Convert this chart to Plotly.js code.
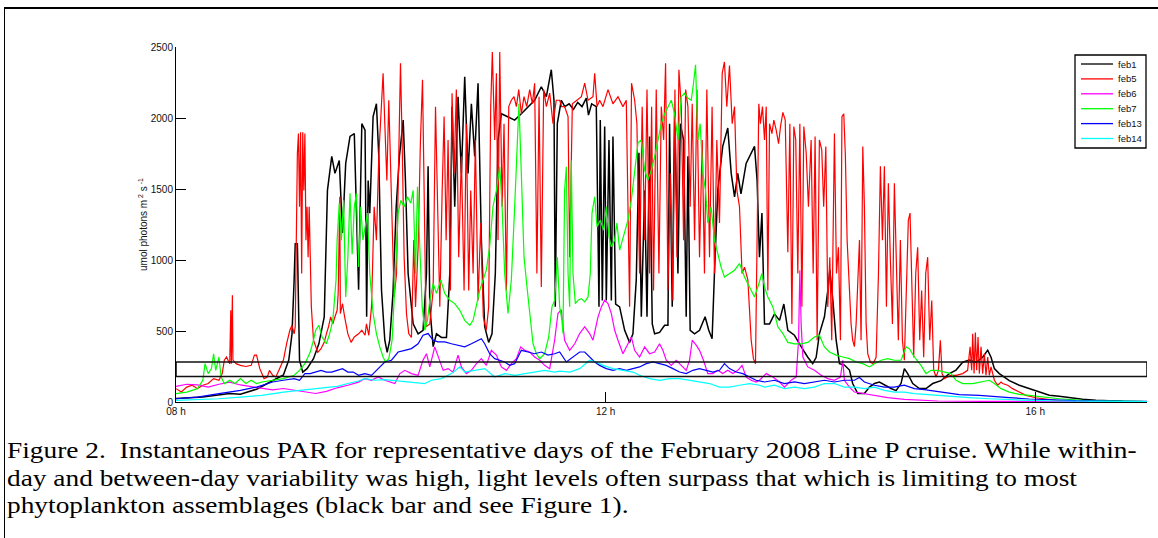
<!DOCTYPE html>
<html>
<head>
<meta charset="utf-8">
<script src="https://cdn.plot.ly/plotly-3.0.1.min.js"></script>
<style>
  html, body { margin: 0; padding: 0; background: #fff; }
  #wrap { position: relative; width: 1158px; height: 538px; overflow: hidden; }
  #frame { position: absolute; left: 4px; top: 7px; width: 1200px; height: 600px;
           border-left: 1px solid #000; border-top: 2px solid #000; box-sizing: border-box; }
  #chart { position: absolute; left: 0; top: 0; width: 1158px; height: 538px; }
  #caption { position: absolute; left: 7px; top: 437px; font-family: "Liberation Serif", "Times New Roman", Times, serif;
             font-size: 24px; line-height: 27.5px; color: #000; white-space: nowrap;
             transform: scaleX(1.14); transform-origin: 0 0; }
</style>
</head>
<body>
<div id="wrap">
  <div id="frame"></div>
  <div id="chart"></div>
  <div id="caption">Figure 2.&nbsp; Instantaneous PAR for representative days of the February 2008 Line P cruise. While within-<br>day and between-day variability was high, light levels often surpass that which is limiting to most<br>phytoplankton assemblages (black bar and see Figure 1).</div>
</div>
<script>
// Time of day (hours) and PAR (umol photons m^2 s^-1)
const seriesNames = ['feb1', 'feb5', 'feb6', 'feb7', 'feb13', 'feb14'];
const seriesColors = ['#000000', '#ff0000', '#ff00ff', '#00ff00', '#0000ff', '#00ffff'];

const feb1Hours = [8.00,8.25,8.5,8.6,8.75,9.0,9.05,9.08,9.1,9.11,9.13,9.15,9.18,9.22,9.28,9.33,9.38,9.41,9.45,9.48,9.52,9.55,9.58,9.62,9.66,9.70,9.73,9.76,9.775,9.789,9.804,9.835,9.866,9.888,9.913,9.944,9.966,9.99,10.02,10.05,10.08,10.115,10.136,10.161,10.208,10.254,10.3,10.332,10.347,10.363,10.394,10.425,10.471,10.518,10.549,10.57,10.595,10.626,10.657,10.688,10.719,10.75,10.781,10.812,10.843,10.874,10.911,10.942,10.973,10.998,11.029,11.091,11.153,11.215,11.277,11.339,11.401,11.448,11.494,11.519,11.531,11.55,11.587,11.62,11.66,11.7,11.74,11.78,11.82,11.84,11.87,11.913,11.938,11.95,11.969,11.991,12.006,12.031,12.053,12.068,12.093,12.13,12.177,12.223,12.254,12.285,12.31,12.332,12.363,12.385,12.409,12.434,12.456,12.502,12.549,12.58,12.595,12.62,12.642,12.673,12.695,12.726,12.75,12.766,12.787,12.828,12.874,12.926,12.96,12.991,13.013,13.044,13.09,13.137,13.169,13.2,13.23,13.26,13.308,13.355,13.386,13.41,13.432,13.455,13.479,13.526,13.572,13.619,13.659,13.696,13.758,13.82,13.882,13.928,13.96,13.99,14.037,14.068,14.087,14.115,14.146,14.177,14.223,14.27,14.3,14.347,14.409,14.456,14.502,14.549,14.595,14.657,14.704,14.75,14.781,14.812,14.859,14.921,14.983,15.045,15.122,15.2,15.262,15.324,15.386,15.448,15.51,15.557,15.588,15.619,15.665,15.758,15.851,15.944,16.037,16.13,16.223,16.316,16.44,16.564,16.688,16.812];
const feb1Par = [25,35,60,55,90,190,295,480,860,1115,1115,295,210,235,305,410,600,1490,1730,1610,1700,1190,1680,1870,1890,790,1960,1915,600,1560,1330,2010,2100,1730,790,435,350,435,765,1375,1730,1985,1560,905,550,480,505,905,1660,670,390,480,455,455,905,2080,1375,2150,1610,2290,1610,2100,1730,2245,1140,530,420,480,905,1845,2030,2010,1985,2030,2080,2125,2220,2150,2340,2125,670,1960,2125,2080,2100,2060,2110,2080,2140,2020,2100,2080,670,1985,715,1940,715,1845,715,1870,690,670,505,420,480,860,1755,600,1490,600,1870,550,480,490,540,540,1960,670,2055,905,1960,1845,600,1730,505,480,505,600,505,445,905,1490,1800,1930,1610,1445,1610,1465,1680,1755,1800,1560,1020,1330,550,550,620,575,690,505,470,390,315,270,315,480,600,785,930,720,435,270,260,225,130,60,60,105,130,140,120,95,80,130,235,200,130,95,95,130,150,200,225,280,295,280,315,365,315,235,200,150,118,94,70,47,40,30,19,12,7,5];

const feb5Hours = [8.0,8.05,8.1,8.15,8.2,8.25,8.3,8.35,8.4,8.43,8.45,8.47,8.5,8.51,8.515,8.525,8.53,8.56,8.6,8.65,8.7,8.73,8.75,8.78,8.82,8.85,8.87,8.9,8.93,8.96,9.0,9.03,9.06,9.08,9.1,9.11,9.13,9.14,9.15,9.16,9.17,9.18,9.19,9.2,9.21,9.22,9.23,9.24,9.25,9.26,9.28,9.3,9.32,9.35,9.38,9.4,9.42,9.44,9.46,9.48,9.5,9.51,9.52,9.525,9.53,9.55,9.57,9.6,9.63,9.66,9.7,9.73,9.76,9.773,9.795,9.82,9.845,9.866,9.888,9.913,9.928,9.944,9.963,9.981,10.006,10.031,10.053,10.068,10.09,10.105,10.124,10.146,10.167,10.192,10.214,10.23,10.254,10.276,10.295,10.31,10.328,10.363,10.394,10.416,10.434,10.456,10.478,10.496,10.515,10.533,10.555,10.57,10.589,10.61,10.632,10.657,10.682,10.703,10.725,10.744,10.766,10.787,10.812,10.837,10.861,10.889,10.911,10.93,10.945,10.967,10.983,10.998,11.014,11.036,11.054,11.076,11.098,11.122,11.147,11.169,11.191,11.215,11.24,11.265,11.293,11.318,11.339,11.36,11.38,11.401,11.423,11.448,11.479,11.51,11.54,11.572,11.59,11.618,11.65,11.665,11.69,11.727,11.774,11.805,11.836,11.882,11.898,11.92,11.944,11.975,12.022,12.068,12.115,12.161,12.192,12.223,12.241,12.27,12.291,12.316,12.34,12.363,12.385,12.409,12.428,12.446,12.471,12.496,12.518,12.54,12.558,12.58,12.602,12.626,12.645,12.664,12.682,12.704,12.726,12.745,12.766,12.787,12.806,12.828,12.85,12.874,12.899,12.92,12.942,12.967,12.991,13.013,13.035,13.06,13.085,13.106,13.128,13.153,13.178,13.2,13.222,13.246,13.27,13.293,13.324,13.355,13.376,13.395,13.41,13.426,13.441,13.46,13.479,13.495,13.51,13.526,13.548,13.566,13.588,13.61,13.628,13.65,13.672,13.696,13.715,13.734,13.752,13.77,13.789,13.808,13.827,13.845,13.867,13.888,13.913,13.932,13.95,13.969,13.99,14.012,14.03,14.05,14.068,14.087,14.105,14.13,14.149,14.167,14.186,14.2,14.217,14.232,14.248,14.267,14.285,14.3,14.316,14.332,14.347,14.363,14.378,14.394,14.409,14.425,14.44,14.465,14.49,14.518,14.54,14.558,14.577,14.595,14.614,14.632,14.65,14.67,14.688,14.707,14.725,14.744,14.763,14.781,14.8,14.818,14.834,14.85,14.868,14.887,14.905,14.924,14.942,14.961,14.98,14.998,15.017,15.036,15.054,15.076,15.098,15.116,15.132,15.153,15.184,15.215,15.262,15.324,15.37,15.393,15.408,15.417,15.43,15.442,15.454,15.467,15.479,15.495,15.51,15.526,15.541,15.557,15.572,15.588,15.619,15.65,15.681,15.696,15.743,15.789,15.851,15.913,16.006,16.099,16.192,16.316,16.45];
const feb5Par = [94,70,105,118,94,118,130,165,153,200,295,317,270,646,270,752,295,270,258,250,258,330,330,235,165,176,223,188,176,223,295,411,505,540,480,530,1750,1890,1375,1900,905,1900,1490,1890,1140,1375,1020,1375,860,670,435,390,350,375,420,480,530,600,550,600,646,765,1140,1445,623,693,600,480,420,458,480,505,470,550,470,670,1375,1140,1730,2080,2315,1960,1560,2125,1375,740,905,1540,2385,1845,1020,620,480,455,1140,670,1090,1845,2270,1490,530,550,785,2080,1375,670,1490,2010,1140,1845,785,2175,1610,2200,1020,1730,785,1960,785,1490,905,1845,715,1260,600,505,670,2080,2465,1845,2315,1140,2465,1375,1960,785,2080,2125,2150,2080,2200,2030,2150,2080,2200,2100,2245,905,2150,810,2200,2080,2175,1960,2125,2125,2080,2080,2010,1020,2100,2125,2150,2245,2125,2150,2315,2080,2125,2080,2200,2100,2150,2080,2125,670,2245,2125,1960,905,2080,1140,2200,905,2080,785,2200,905,2080,1845,2385,785,1610,715,2200,1020,2340,2080,1140,2200,2080,1375,2100,1140,2200,1020,1845,905,2200,1020,2080,905,1845,1260,2315,2395,2080,2370,1960,2080,1490,1375,905,950,860,435,305,270,1140,2100,1960,2080,1845,2080,785,1960,1890,1985,1915,1820,1940,2040,1985,1055,1960,550,1940,1845,905,1960,670,1940,1755,1375,1845,905,1870,435,1845,1775,1375,1800,670,1020,435,1890,905,1090,435,2010,2030,1730,1140,785,550,435,390,550,905,1140,435,1800,1375,550,340,280,270,315,905,1660,1140,1660,670,1540,1020,550,1540,905,435,1140,435,295,905,1280,1330,905,315,905,1090,435,785,315,905,1020,435,715,225,176,223,435,200,165,176,188,188,200,223,388,223,480,200,490,223,458,200,388,200,340,188,317,188,247,153,118,140,130,118,94,70,47,30,19,12,7,4];

const feb6Hours = [8.0,8.1,8.2,8.3,8.4,8.5,8.6,8.7,8.8,8.9,9.0,9.1,9.2,9.3,9.4,9.5,9.6,9.7,9.758,9.82,9.882,9.944,10.037,10.084,10.13,10.192,10.254,10.3,10.332,10.363,10.409,10.44,10.487,10.533,10.58,10.626,10.657,10.703,10.75,10.797,10.843,10.889,10.936,10.983,11.029,11.076,11.122,11.169,11.209,11.246,11.293,11.339,11.386,11.432,11.479,11.525,11.556,11.587,11.618,11.665,11.712,11.758,11.805,11.851,11.882,11.929,11.96,11.991,12.022,12.053,12.084,12.115,12.161,12.208,12.239,12.27,12.316,12.363,12.409,12.456,12.502,12.533,12.564,12.611,12.657,12.704,12.75,12.781,12.806,12.843,12.874,12.911,12.951,12.998,13.044,13.09,13.137,13.184,13.23,13.27,13.308,13.355,13.401,13.432,13.495,13.557,13.619,13.665,13.727,13.774,13.796,13.808,13.82,13.836,13.882,13.944,14.006,14.068,14.13,14.186,14.208,14.223,14.27,14.316,14.409,14.502,14.626,14.781,14.936,15.09,15.5,16.0,16.5];
const feb6Par = [110,125,120,105,125,140,120,110,100,85,95,85,70,60,75,100,118,140,165,153,176,153,130,200,223,200,188,295,340,247,388,317,223,235,210,330,247,200,223,270,305,258,364,330,247,223,270,305,388,364,352,317,294,258,235,435,623,650,435,364,410,482,530,482,435,600,670,717,693,623,505,435,340,410,458,364,317,388,340,352,410,364,294,258,294,258,223,294,435,400,364,294,200,200,223,200,223,200,223,258,176,153,141,153,200,176,141,105,153,176,435,928,552,317,247,223,188,165,153,176,294,153,105,70,59,47,31,19,12,7,5,3,2];

const feb7Hours = [8.0,8.1,8.2,8.25,8.27,8.3,8.33,8.35,8.37,8.4,8.42,8.45,8.5,8.55,8.6,8.65,8.7,8.75,8.8,8.9,9.0,9.1,9.15,9.2,9.25,9.28,9.3,9.33,9.36,9.4,9.43,9.46,9.49,9.5,9.52,9.54,9.56,9.58,9.6,9.62,9.64,9.66,9.68,9.7,9.72,9.74,9.76,9.783,9.804,9.835,9.866,9.897,9.928,9.95,9.981,10.012,10.043,10.068,10.093,10.124,10.155,10.186,10.208,10.23,10.248,10.27,10.292,10.316,10.341,10.363,10.394,10.425,10.465,10.502,10.549,10.595,10.642,10.688,10.735,10.766,10.797,10.828,10.859,10.889,10.92,10.951,10.983,11.014,11.036,11.06,11.091,11.122,11.153,11.178,11.193,11.215,11.24,11.271,11.302,11.324,11.355,11.386,11.432,11.47,11.5,11.525,11.55,11.572,11.593,11.603,11.618,11.634,11.65,11.665,11.68,11.696,11.718,11.743,11.774,11.805,11.836,11.857,11.873,11.898,11.92,11.95,11.982,12.006,12.031,12.053,12.084,12.105,12.13,12.155,12.18,12.208,12.239,12.27,12.301,12.332,12.363,12.394,12.425,12.456,12.487,12.518,12.549,12.58,12.611,12.642,12.673,12.704,12.735,12.766,12.797,12.818,12.837,12.859,12.88,12.905,12.93,12.951,12.982,13.013,13.044,13.075,13.106,13.153,13.2,13.246,13.293,13.339,13.386,13.417,13.455,13.479,13.51,13.557,13.603,13.65,13.696,13.758,13.82,13.882,13.944,13.99,14.037,14.084,14.146,14.208,14.27,14.332,14.394,14.456,14.502,14.564,14.626,14.688,14.75,14.797,14.828,14.874,14.936,14.983,15.03,15.09,15.153,15.215,15.262,15.324,15.417,15.51,15.572,15.619,15.681,15.758,15.851,15.944,16.068,16.223,16.44,16.75,17.0];
const feb7Par = [59,70,94,153,270,200,235,340,223,317,176,130,153,130,165,130,153,130,141,153,165,188,223,270,352,435,505,540,458,410,480,575,860,1140,1400,1140,1420,740,1020,1470,1040,1375,1470,950,1375,1140,1235,1330,905,623,482,388,317,282,305,435,905,1330,1420,1375,1445,1400,1490,905,1515,1140,670,505,575,717,835,765,860,765,717,693,646,575,540,575,693,787,860,928,1093,1375,1490,1657,1375,905,623,860,1375,1890,2100,1610,1020,787,552,410,340,305,340,458,670,717,1020,670,575,482,1490,1657,905,670,1700,905,693,717,728,705,740,905,1330,1445,1235,1280,1210,1375,1165,1093,1140,1260,1070,1140,1210,1280,1420,1610,1825,1845,1633,1563,1633,1727,1845,1960,2030,2080,2125,2030,1845,2150,2175,2140,2125,2245,2375,1845,1960,1610,1490,1260,1375,1140,1045,950,880,905,928,975,880,810,740,810,905,810,740,670,530,482,420,410,410,420,458,470,388,352,330,317,305,282,270,247,270,294,305,294,294,388,376,317,258,200,223,223,211,200,153,130,130,141,153,130,94,70,54,47,35,23,12,7,4];

const feb13Hours = [8.0,8.2,8.4,8.5,8.6,8.75,8.9,9.0,9.1,9.15,9.2,9.25,9.3,9.35,9.4,9.45,9.5,9.55,9.6,9.65,9.7,9.758,9.82,9.882,9.944,10.006,10.068,10.13,10.192,10.254,10.3,10.347,10.394,10.44,10.502,10.564,10.626,10.688,10.75,10.812,10.843,10.874,10.92,10.967,11.014,11.06,11.107,11.153,11.184,11.215,11.277,11.339,11.401,11.463,11.525,11.572,11.634,11.696,11.758,11.805,11.851,11.898,11.944,12.006,12.068,12.13,12.192,12.254,12.316,12.378,12.44,12.502,12.564,12.626,12.688,12.75,12.812,12.874,12.936,12.998,13.06,13.106,13.153,13.215,13.277,13.339,13.401,13.479,13.572,13.665,13.758,13.851,13.944,14.037,14.13,14.223,14.316,14.363,14.409,14.502,14.595,14.688,14.781,14.874,14.967,15.06,15.153,15.246,15.293,15.479,15.572,15.758,15.944,16.13,16.378,16.688,17.04];
const feb13Par = [23,35,59,70,82,105,141,153,165,153,200,200,211,223,211,211,223,235,211,211,188,200,188,235,282,294,352,364,376,410,470,482,435,423,423,410,400,388,410,435,446,410,340,305,294,282,258,270,317,364,352,340,352,330,340,352,282,317,352,352,317,282,258,235,223,235,223,235,247,270,282,270,258,235,211,200,223,235,223,211,223,270,235,211,200,176,153,141,153,130,141,130,141,153,141,153,153,172,141,118,105,105,118,94,87,78,70,59,52,47,40,31,21,14,9,7,5];

const feb14Hours = [8.0,8.2,8.4,8.6,8.8,9.0,9.2,9.4,9.5,9.6,9.7,9.758,9.851,9.944,10.068,10.192,10.316,10.378,10.471,10.564,10.642,10.688,10.781,10.874,10.967,11.06,11.153,11.246,11.339,11.432,11.525,11.572,11.665,11.758,11.851,11.913,11.975,12.068,12.161,12.254,12.316,12.409,12.502,12.595,12.688,12.781,12.874,12.967,13.06,13.153,13.246,13.339,13.432,13.479,13.572,13.665,13.758,13.851,13.944,14.037,14.13,14.223,14.316,14.409,14.502,14.595,14.688,14.781,14.874,14.967,15.06,15.153,15.246,15.386,15.572,15.758,15.944,16.223,16.502,17.04];
const feb14Par = [12,16,23,35,47,70,87,105,110,130,148,165,153,157,148,141,130,153,165,200,247,211,223,235,176,200,188,200,211,223,211,218,211,235,294,282,258,235,223,211,188,165,153,165,165,153,141,130,105,105,118,130,118,105,118,94,105,94,105,130,130,105,105,94,105,82,70,70,59,54,47,40,35,31,23,16,12,7,5,3];

// Limiting light range for most phytoplankton assemblages (the "black bar")
const limitingRange = [180, 282];
const xTickValues = [8, 12, 16];
const xTickLabels = ['08 h', '12 h', '16 h'];
const yTickValues = [0, 500, 1000, 1500, 2000, 2500];
const xRange = [8, 17.04];
const yRange = [0, 2500];

const hoursBySeries = [feb1Hours, feb5Hours, feb6Hours, feb7Hours, feb13Hours, feb14Hours];
const parBySeries = [feb1Par, feb5Par, feb6Par, feb7Par, feb13Par, feb14Par];

const traces = seriesNames.map((name, i) => ({
  type: 'scatter',
  mode: 'lines',
  name: name,
  x: hoursBySeries[i],
  y: parBySeries[i],
  line: { color: seriesColors[i], width: i === 0 ? 1.5 : 1.2 },
  showlegend: false,
  hoverinfo: 'skip'
}));

// Legend box drawn in plot-paper units (plot area: 971 x 355 px)
const PW = 971, PH = 355;
const px2x = p => (p - 176) / PW;
const px2y = p => (402 - p) / PH;
const legendShapes = [{
  type: 'rect', xref: 'paper', yref: 'paper',
  x0: px2x(1075), x1: px2x(1146), y0: px2y(148), y1: px2y(55),
  line: { color: '#000', width: 1.3 }, fillcolor: '#ffffff', layer: 'above'
}];
const legendAnnotations = [];
seriesNames.forEach((name, i) => {
  const rowY = 64 + i * 14.9;
  legendShapes.push({
    type: 'line', xref: 'paper', yref: 'paper',
    x0: px2x(1081), x1: px2x(1113), y0: px2y(rowY), y1: px2y(rowY),
    line: { color: seriesColors[i], width: 1.3 }, layer: 'above'
  });
  legendAnnotations.push({
    xref: 'paper', yref: 'paper', x: px2x(1116), y: px2y(rowY),
    xanchor: 'left', yanchor: 'middle', showarrow: false, text: name,
    font: { family: 'Liberation Sans, Arial, sans-serif', size: 9.5, color: '#111' }
  });
});

const axisFont = { family: 'Liberation Sans, Arial, sans-serif', size: 10, color: '#111' };

const layout = {
  width: 1158,
  height: 538,
  margin: { l: 176, r: 11, t: 47, b: 136 },
  paper_bgcolor: 'rgba(0,0,0,0)',
  plot_bgcolor: 'rgba(0,0,0,0)',
  showlegend: false,
  xaxis: {
    range: xRange,
    tickvals: xTickValues,
    ticktext: xTickLabels,
    ticks: 'inside', ticklen: 10, tickwidth: 1, tickcolor: '#000',
    showline: true, linecolor: '#000', linewidth: 1,
    showgrid: false, zeroline: false,
    tickfont: axisFont
  },
  yaxis: {
    range: yRange,
    tickvals: yTickValues,
    ticks: 'inside', ticklen: 10, tickwidth: 1, tickcolor: '#000',
    showline: true, linecolor: '#000', linewidth: 1,
    showgrid: false, zeroline: false,
    tickfont: axisFont,
    title: { text: 'umol photons m<sup> 2</sup> s<sup> -1</sup>', font: { family: 'Liberation Sans, Arial, sans-serif', size: 10, color: '#111' }, standoff: 1 }
  },
  shapes: [{
    type: 'rect', xref: 'x', yref: 'y',
    x0: xRange[0], x1: xRange[1], y0: limitingRange[0], y1: limitingRange[1],
    line: { color: '#111', width: 1.6 }, fillcolor: 'rgba(0,0,0,0)', layer: 'above'
  }].concat(legendShapes),
  annotations: legendAnnotations
};

Plotly.newPlot('chart', traces, layout, { displayModeBar: false, staticPlot: true });
</script>
</body>
</html>
